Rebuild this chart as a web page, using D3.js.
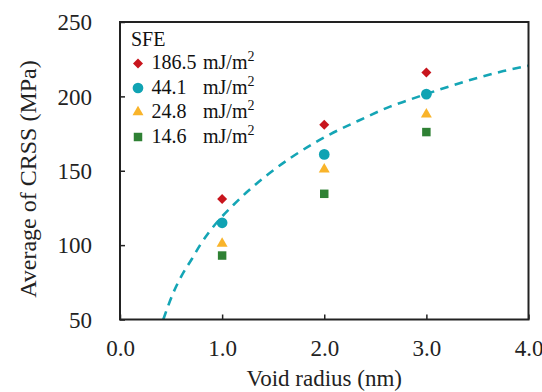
<!DOCTYPE html>
<html><head><meta charset="utf-8">
<script src="https://cdn.jsdelivr.net/npm/d3@7"></script>
<style>body{margin:0;background:#fff}svg{display:block}</style>
</head><body>
<svg id="c" width="542" height="392"></svg>
<script>
const radius = [1, 2, 3];
const sfe186 = [131, 181, 216];
const sfe44 = [115, 161, 201.5];
const sfe24 = [101, 151, 188];
const sfe14 = [93, 134.5, 176];
const seriesNames = ["186.5", "44.1", "24.8", "14.6"];
const trendX = [0.424, 0.522, 0.604, 0.702, 0.784, 0.881, 0.996, 1.11, 1.24, 1.665, 1.91, 2.057, 2.334, 2.644, 2.808, 3.118, 3.428, 3.754, 4.0];
const trendY = [50, 68, 79.5, 90.5, 100, 109.5, 119, 127, 135.5, 158.4, 168.9, 174.5, 183.6, 193.1, 197.1, 204.3, 211, 217, 220.6];
const xTicks = [0, 1, 2, 3, 4];
const yTicks = [50, 100, 150, 200, 250];

const svg = d3.select("#c");
const L = 120, R = 528.5, T = 22, B = 319.5;
const x = d3.scaleLinear().domain([0, 4]).range([L, R]);
const y = d3.scaleLinear().domain([50, 250]).range([B, T]);
const font = "'Liberation Serif','Times New Roman',serif";

// trend
const line = d3.line().x(d => x(d[0])).y(d => y(d[1])).curve(d3.curveMonotoneX);
svg.append("path").datum(trendX.map((v, i) => [v, trendY[i]]))
  .attr("d", line).attr("fill", "none").attr("stroke", "#14A5B5")
  .attr("stroke-width", 2.6).attr("stroke-dasharray", "8.5,6.5");

// axes with inner ticks
const gx = svg.append("g").attr("transform", `translate(0,${B})`)
  .call(d3.axisBottom(x).tickValues(xTicks).tickSize(-5).tickPadding(0).tickFormat(d3.format(".1f")));
const gy = svg.append("g").attr("transform", `translate(${L},0)`)
  .call(d3.axisLeft(y).tickValues(yTicks).tickSize(-5).tickPadding(0));
[gx, gy].forEach(g => {
  g.select(".domain").remove();
  g.selectAll(".tick line").attr("stroke", "#222").attr("stroke-width", 1.5);
  g.selectAll(".tick text").attr("font-family", font).attr("font-size", 23).attr("fill", "#222");
});
gx.selectAll(".tick text").attr("dy", null).attr("y", 36.5);
gy.selectAll(".tick text").attr("dy", null).attr("x", -28).attr("y", 7.8);

// frame
svg.append("rect").attr("x", L).attr("y", T).attr("width", R - L).attr("height", B - T)
  .attr("fill", "none").attr("stroke", "#222").attr("stroke-width", 2);

// markers
const colors = ["#C8151D", "#10A3B3", "#F9B42A", "#2F8134"];
const symbols = [
  d3.symbol().type(d3.symbolSquare).size(50),
  d3.symbol().type(d3.symbolCircle).size(90),
  d3.symbol().type(d3.symbolTriangle).size(52),
  d3.symbol().type(d3.symbolSquare).size(72)
];
const rot = [45, 0, 0, 0];
const allSeries = [sfe186, sfe44, sfe24, sfe14];
allSeries.forEach((vals, si) => {
  svg.append("g").selectAll("path").data(vals).join("path")
    .attr("d", symbols[si]())
    .attr("transform", (d, i) => `translate(${x(radius[i])},${y(d)}) rotate(${rot[si]})`)
    .attr("fill", colors[si]);
});

// legend
const lg = svg.append("g").attr("font-family", font).attr("font-size", 20).attr("fill", "#111");
lg.append("text").attr("x", 131).attr("y", 46).text("SFE");
const rowsY = [63.5, 88, 112, 137];
seriesNames.forEach((n, i) => {
  lg.append("path").attr("d", symbols[i]())
    .attr("transform", `translate(138,${rowsY[i]}) rotate(${rot[i]})`).attr("fill", colors[i]);
  lg.append("text").attr("x", 151.5).attr("y", rowsY[i] + 5.5).text(n);
  const t = lg.append("text").attr("x", 203).attr("y", rowsY[i] + 5.5);
  t.append("tspan").text("mJ/m");
  t.append("tspan").attr("font-size", 14).attr("dy", -8).text("2");
});

// axis titles
svg.append("text").attr("x", (L + R) / 2).attr("y", 386).attr("text-anchor", "middle")
  .attr("font-family", font).attr("font-size", 23).attr("fill", "#222").text("Void radius (nm)");
svg.append("text").attr("transform", `translate(36,179) rotate(-90)`).attr("text-anchor", "middle")
  .attr("font-family", font).attr("font-size", 24).attr("fill", "#222").text("Average of CRSS (MPa)");
</script>
</body></html>
